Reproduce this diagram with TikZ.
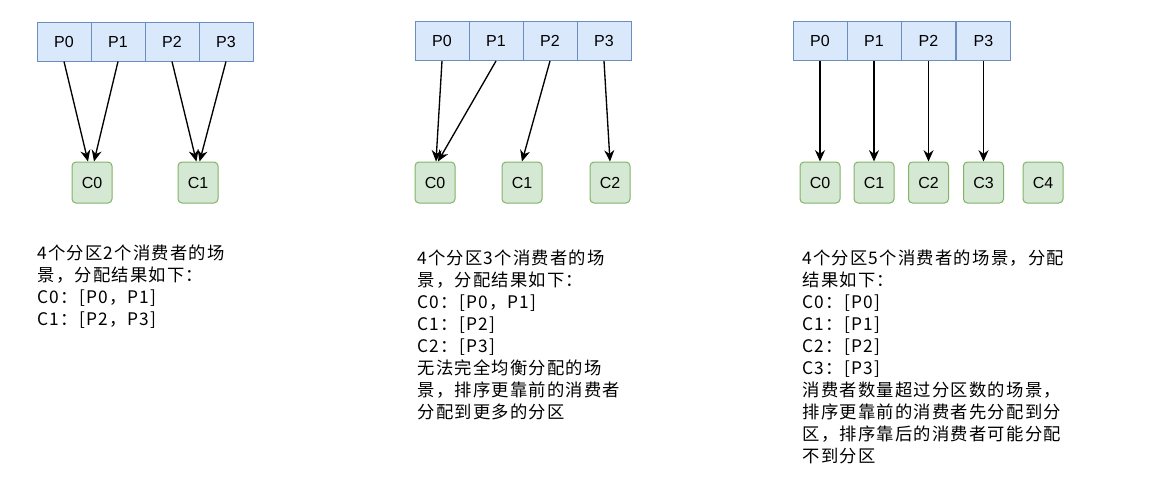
\documentclass[tikz,border=0pt]{standalone}
\usepackage{fontspec}
\setmainfont{Liberation Sans}
\newfontfamily\cjk[LetterSpace=7]{Noto Sans CJK SC}
\usetikzlibrary{arrows.meta}

\definecolor{partfill}{HTML}{DAE8FC}
\definecolor{partline}{HTML}{6C8EBF}
\definecolor{consfill}{HTML}{D5E8D4}
\definecolor{consline}{HTML}{82B366}

\tikzset{
  part/.style={draw=partline, fill=partfill, minimum width=40.5pt, minimum height=29.25pt,
    inner sep=0pt, font=\fontsize{12}{14}\selectfont},
  cons/.style={draw=consline, fill=consfill, rounded corners=3pt, minimum width=30pt,
    minimum height=30.75pt, inner sep=0pt, font=\fontsize{12}{14}\selectfont},
  note/.style={anchor=north west, align=left, inner sep=0pt,
    font=\cjk\fontsize{13}{16.5}\selectfont},
  link/.style={->, line width=1pt},
}

\begin{document}
\begin{tikzpicture}[x=0.75pt,y=-0.75pt,line width=0.75pt,>={Stealth[length=8.5pt,width=7.5pt]}]
\fill[white] (0,0) rectangle (1161,480);

% 4 partitions, 2 consumers
\node[part] (pA0) at (64,41.5) {P0};
\node[part] (pA1) at (118,41.5) {P1};
\node[part] (pA2) at (172,41.5) {P2};
\node[part] (pA3) at (226,41.5) {P3};
\node[cons] (cA0) at (92,182.5) {C0};
\node[cons] (cA1) at (198,182.5) {C1};
\draw[link] (pA0.south) -- ([xshift=-3pt]cA0.north);
\draw[link] (pA1.south) -- ([xshift=1.5pt]cA0.north);
\draw[link] (pA2.south) -- ([xshift=-1.2pt]cA1.north);
\draw[link] (pA3.south) -- ([xshift=1.2pt]cA1.north);
\node[note] (tA) at (37,244) {4个分区2个消费者的场\\景，分配结果如下：\\C0：[P0，P1]\\C1：[P2，P3]};

% 4 partitions, 3 consumers
\node[part] (pB0) at (442,41) {P0};
\node[part] (pB1) at (496,41) {P1};
\node[part] (pB2) at (550,41) {P2};
\node[part] (pB3) at (604,41) {P3};
\node[cons] (cB0) at (435,182.5) {C0};
\node[cons] (cB1) at (522,182.5) {C1};
\node[cons] (cB2) at (610,182.5) {C2};
\draw[link] (pB0.south) -- ([xshift=0.75pt]cB0.north);
\draw[link] (pB1.south) -- ([xshift=2.25pt]cB0.north);
\draw[link] (pB2.south) -- (cB1.north);
\draw[link] (pB3.south) -- (cB2.north);
\node[note] (tB) at (417,249.5) {4个分区3个消费者的场\\景，分配结果如下：\\C0：[P0，P1]\\C1：[P2]\\C2：[P3]\\无法完全均衡分配的场\\景，排序更靠前的消费者\\分配到更多的分区};

% 4 partitions, 5 consumers
\node[part] (pC0) at (820,41) {P0};
\node[part] (pC1) at (874,41) {P1};
\node[part] (pC2) at (928.5,41) {P2};
\node[part] (pC3) at (983.5,41) {P3};
\node[cons] (cC0) at (820,182.5) {C0};
\node[cons] (cC1) at (874,182.5) {C1};
\node[cons] (cC2) at (928.5,182.5) {C2};
\node[cons] (cC3) at (983.5,182.5) {C3};
\node[cons] (cC4) at (1043,182.5) {C4};
\draw[link] (pC0) -- (cC0);
\draw[link] (pC1) -- (cC1);
\draw[link] (pC2) -- (cC2);
\draw[link] (pC3) -- (cC3);
\node[note] (tC) at (802,249.5) {4个分区5个消费者的场景，分配\\结果如下：\\C0：[P0]\\C1：[P1]\\C2：[P2]\\C3：[P3]\\消费者数量超过分区数的场景，\\排序更靠前的消费者先分配到分\\区，排序靠后的消费者可能分配\\不到分区};
\end{tikzpicture}
\end{document}
